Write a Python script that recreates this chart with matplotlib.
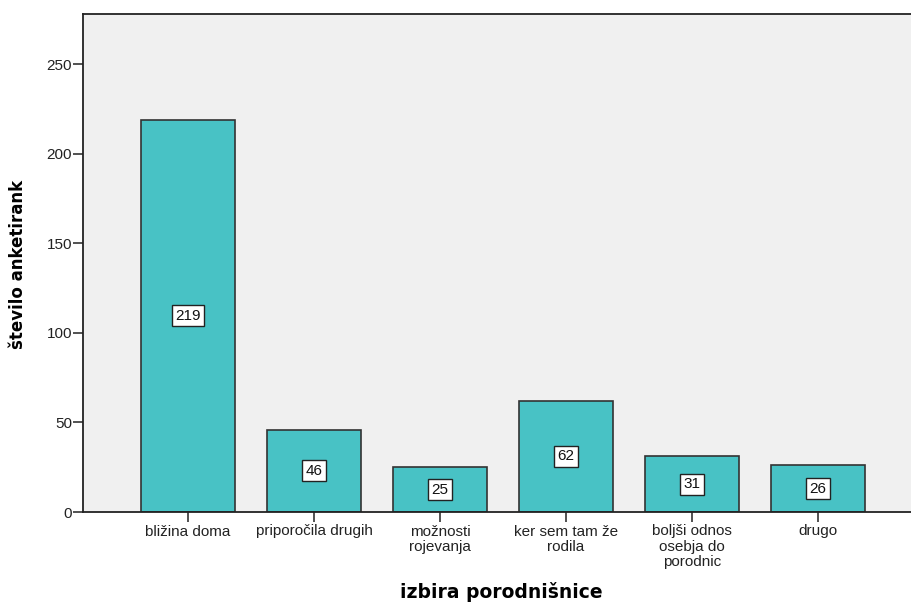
import numpy as np
import matplotlib.pyplot as plt

categories = ['bližina doma', 'priporočila drugih', 'možnosti\nrojevanja',
              'ker sem tam že\nrodila', 'boljši odnos\nosebja do\nporodnic', 'drugo']
counts = [219, 46, 25, 62, 31, 26]
yticks = [0, 50, 100, 150, 200, 250]

fig = plt.figure(figsize=(9.11, 6.03), dpi=100)
ax = fig.add_axes([83 / 911, 1 - 512 / 603, 1 - 83 / 911, (512 - 14) / 603])
ax.set_facecolor('#f0f0f0')

small = dict(family='Liberation Sans', size=11)

x = np.arange(len(categories))
ax.bar(x, counts, width=0.75, color='#48c2c5', edgecolor='#333333', linewidth=1.2, zorder=2)

# count labels in the middle of each bar
for xi, v in zip(x, counts):
    ax.text(xi, v / 2, str(v), ha='center', va='center', color='#111111', zorder=3, **small,
            bbox=dict(boxstyle='square,pad=0.22', facecolor='white', edgecolor='#222222', linewidth=1))

ax.set_xlim(-0.835, 5.74)
ax.set_ylim(0, 278)
ax.set_xticks(x)
ax.set_xticklabels(categories, linespacing=1.1, **small)
ax.set_yticks(yticks)
ax.set_yticklabels([str(t) for t in yticks], **small)
ax.tick_params(axis='y', length=7, width=1.2, color='#333333', labelcolor='#222222', pad=1)
ax.tick_params(axis='x', length=7, width=1.2, color='#333333', labelcolor='#222222', pad=2)

for side in ['left', 'bottom', 'top']:
    ax.spines[side].set_color('#222222')
    ax.spines[side].set_linewidth(1.3)
ax.spines['right'].set_visible(False)

ax.set_ylabel('število anketirank', fontsize=12, fontweight='bold')
ax.yaxis.set_label_coords(-(83 - 27) / 828, (512 - 264) / 498)
ax.set_xlabel('izbira porodnišnice', fontsize=13.5, fontweight='bold', va='center')
ax.xaxis.set_label_coords((501 - 83) / 828, -(592 - 512) / 498)

fig.savefig('out.png', dpi=100)
